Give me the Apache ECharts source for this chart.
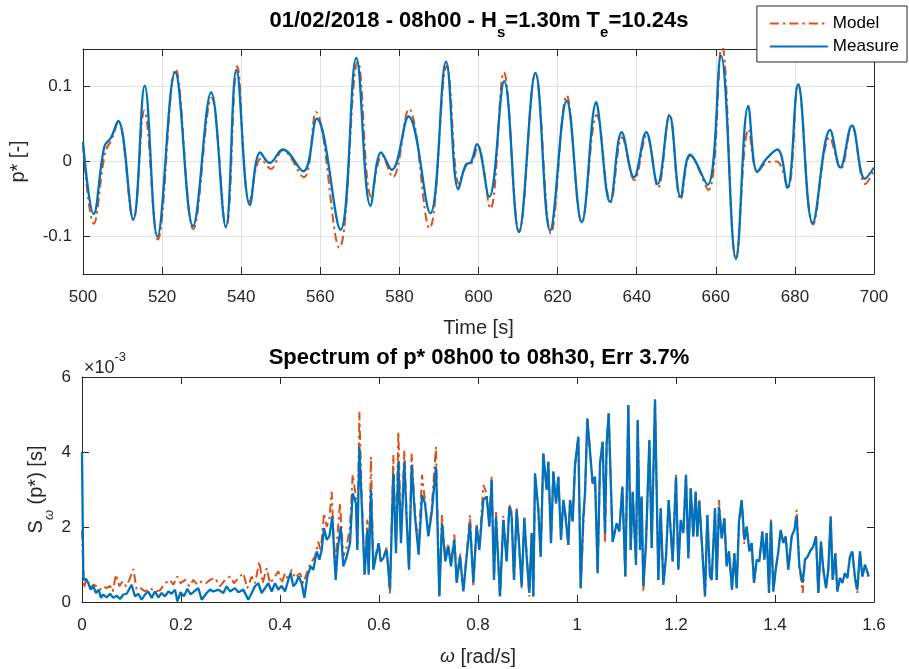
<!DOCTYPE html>
<html>
<head>
<meta charset="utf-8">
<title>Pressure p* – time series and spectrum</title>
<script src="https://cdn.jsdelivr.net/npm/echarts@6/dist/echarts.min.js"></script>
<style>
  html, body { margin: 0; padding: 0; background: #ffffff; }
  #chart { width: 909px; height: 669px; }
</style>
</head>
<body>
<div id="chart"></div>
<script>
// ---- Time series, 500–700 s (turning points of each trace) ----
const timeMeasure = [500, 502.7, 505.4, 507.1, 508.9, 512.7, 515.6, 518.8, 523.3, 527.8, 532.4, 536.1, 538.8, 542.2, 544.8, 547.2, 550.5, 555.7, 559.1, 565.1, 569.1, 572.7, 575.4, 578.1, 582.3, 587.8, 591.8, 594.9, 596.8, 598.1, 599.6, 602.7, 606.5, 610.2, 614.4, 618.1, 622.3, 626.1, 629.8, 630.3, 633.3, 636.2, 639.3, 642.4, 645.3, 648.3, 651.1, 653.5, 657.9, 661.3, 665.1, 668.2, 670.5, 672.7, 675.6, 678.1, 680.8, 684.5, 688.9, 691.5, 694.4, 697.7, 700];
const pMeasure = [0.026, -0.070, 0.020, 0.032, 0.054, -0.077, 0.101, -0.100, 0.119, -0.086, 0.092, -0.087, 0.122, -0.058, 0.012, -0.002, 0.016, -0.013, 0.057, -0.091, 0.138, -0.059, 0.012, -0.011, 0.060, -0.069, 0.133, -0.037, -0.004, -0.001, 0.023, -0.047, 0.107, -0.094, 0.118, -0.092, 0.081, -0.081, 0.079, 0.067, -0.054, 0.039, -0.021, 0.039, -0.030, 0.061, -0.047, 0.009, -0.031, 0.141, -0.130, 0.074, -0.014, 0.003, 0.016, -0.035, 0.103, -0.082, 0.042, -0.008, 0.048, -0.023, -0.008];

const timeModel = [500, 502.7, 505.6, 507.3, 508.9, 512.7, 515.5, 518.9, 523.4, 527.9, 532.5, 536.2, 539.0, 542.1, 545.0, 547.5, 550.5, 555.8, 558.9, 564.8, 569.5, 572.9, 575.6, 578.3, 582.4, 587.6, 592.0, 595.1, 596.8, 598.3, 599.8, 603.0, 606.4, 610.3, 614.4, 618.3, 622.3, 626.1, 629.9, 633.4, 636.3, 639.4, 642.5, 645.4, 648.3, 651.1, 653.6, 658.1, 661.5, 665.1, 668.3, 670.6, 673.0, 675.4, 678.2, 680.8, 684.6, 688.8, 691.6, 694.4, 697.8, 700];
const pModel = [0.022, -0.083, 0.012, 0.030, 0.054, -0.078, 0.068, -0.104, 0.123, -0.090, 0.085, -0.088, 0.127, -0.054, 0.004, -0.010, 0.015, -0.021, 0.066, -0.115, 0.133, -0.047, 0.008, -0.021, 0.070, -0.089, 0.127, -0.030, -0.006, -0.002, 0.020, -0.063, 0.119, -0.094, 0.118, -0.096, 0.088, -0.081, 0.062, -0.054, 0.032, -0.025, 0.035, -0.035, 0.063, -0.051, 0.008, -0.038, 0.156, -0.130, 0.043, -0.014, -0.001, 0.000, -0.035, 0.103, -0.084, 0.032, -0.010, 0.048, -0.030, -0.012];

// ---- Spectrum S_w(p*), values in units of 1e-3 s ----
const omegaMeasure = [0.0000, 0.0027, 0.0081, 0.0128, 0.0175, 0.0229, 0.0283, 0.0337, 0.0384, 0.0431, 0.0498, 0.0566, 0.0633, 0.0700, 0.0768, 0.0835, 0.0902, 0.1003, 0.1071, 0.1138, 0.1205, 0.1273, 0.1340, 0.1407, 0.1475, 0.1542, 0.1609, 0.1677, 0.1744, 0.1811, 0.1879, 0.1926, 0.1993, 0.2061, 0.2128, 0.2195, 0.2263, 0.2350, 0.2418, 0.2519, 0.2586, 0.2653, 0.2754, 0.2855, 0.2923, 0.2990, 0.3091, 0.3158, 0.3259, 0.3360, 0.3428, 0.3495, 0.3562, 0.3630, 0.3697, 0.3764, 0.3832, 0.3899, 0.3966, 0.4034, 0.4101, 0.4168, 0.4215, 0.4269, 0.4323, 0.4377, 0.4438, 0.4492, 0.4552, 0.4620, 0.4673, 0.4741, 0.4795, 0.4842, 0.4889, 0.4943, 0.4997, 0.5057, 0.5125, 0.5165, 0.5226, 0.5279, 0.5347, 0.5414,
  0.5468, 0.5535, 0.5562, 0.5603, 0.5656, 0.5710, 0.5764, 0.5791, 0.5838, 0.5885, 0.5939, 0.5993, 0.6034, 0.6087, 0.6155, 0.6222, 0.6289, 0.6343, 0.6391, 0.6444, 0.6512, 0.6559, 0.6606, 0.6660, 0.6727, 0.6801, 0.6869, 0.6929, 0.6997, 0.7064, 0.7151, 0.7219, 0.7273, 0.7340, 0.7401, 0.7454, 0.7522, 0.7569, 0.7636, 0.7704, 0.7758, 0.7838, 0.7906, 0.7973, 0.8027, 0.8108, 0.8175, 0.8229, 0.8276, 0.8323, 0.8364, 0.8444, 0.8512, 0.8579, 0.8633, 0.8680, 0.8727, 0.8781, 0.8828, 0.8882, 0.8936, 0.8983, 0.9037, 0.9084, 0.9118, 0.9152, 0.9219, 0.9266, 0.9320, 0.9387, 0.9421, 0.9475, 0.9522, 0.9576, 0.9623, 0.9677, 0.9724, 0.9758, 0.9825, 0.9859, 0.9912, 0.9960, 1.0027, 1.0074, 1.0128, 1.0162, 1.0209, 1.0263, 1.0316, 1.0364, 1.0417, 1.0465, 1.0518, 1.0566, 1.0599, 1.0640,
  1.0720, 1.0802, 1.0855, 1.0916, 1.0977, 1.1037, 1.1084, 1.1125, 1.1192, 1.1226, 1.1273, 1.1306, 1.1340, 1.1394, 1.1462, 1.1509, 1.1576, 1.1643, 1.1691, 1.1744, 1.1798, 1.1852, 1.1933, 1.2000, 1.2047, 1.2095, 1.2148, 1.2202, 1.2249, 1.2297, 1.2350, 1.2397, 1.2431, 1.2471, 1.2539, 1.2586, 1.2633, 1.2687, 1.2721, 1.2788, 1.2822, 1.2869, 1.2923, 1.2977, 1.3024, 1.3071, 1.3131, 1.3178, 1.3226, 1.3273, 1.3327, 1.3380, 1.3428, 1.3482, 1.3529, 1.3576, 1.3630, 1.3684, 1.3744, 1.3785, 1.3832, 1.3879, 1.3919, 1.3966, 1.4013, 1.4067, 1.4114, 1.4168, 1.4215, 1.4269, 1.4337, 1.4391, 1.4438, 1.4492, 1.4559, 1.4606, 1.4660, 1.4707, 1.4774, 1.4828, 1.4875, 1.4929, 1.4976, 1.5030, 1.5077, 1.5125, 1.5165, 1.5219, 1.5259, 1.5313, 1.5360, 1.5414, 1.5461, 1.5515, 1.5562, 1.5616, 1.5663, 1.5717, 1.5764, 1.5818, 1.5852, 1.5892];
const specMeasure = [4.00, 0.59, 0.61, 0.50, 0.33, 0.42, 0.24, 0.33, 0.11, 0.20, 0.12, 0.22, 0.11, 0.17, 0.08, 0.20, 0.22, 0.46, 0.15, 0.22, 0.06, 0.20, 0.28, 0.11, 0.28, 0.12, 0.24, 0.15, 0.28, 0.22, 0.33, 0.02, 0.26, 0.15, 0.35, 0.20, 0.28, 0.37, 0.06, 0.24, 0.33, 0.28, 0.33, 0.24, 0.42, 0.28, 0.37, 0.26, 0.33, 0.06, 0.24, 0.42, 0.50, 0.24, 0.37, 0.50, 0.28, 0.50, 0.33, 0.43, 0.28, 0.59, 0.77, 0.42, 0.50, 0.68, 0.50, 0.11, 0.68, 0.95, 0.86, 1.35, 1.13, 1.39, 1.97, 1.66, 1.75, 2.28, 0.59, 1.39, 2.01, 0.95, 1.21, 1.57,
  2.90, 2.63, 1.39, 4.14, 2.46, 0.73, 1.92, 0.73, 2.99, 0.86, 1.21, 1.57, 1.08, 1.17, 1.39, 0.33, 3.43, 1.30, 3.74, 1.57, 3.74, 2.19, 0.86, 3.65, 2.28, 1.26, 2.85, 2.63, 1.75, 2.37, 3.61, 0.15, 2.10, 1.08, 1.48, 0.95, 1.66, 0.51, 1.21, 0.28, 1.04, 2.10, 0.51, 2.01, 1.39, 2.72, 2.81, 2.01, 3.25, 0.59, 2.28, 0.15, 2.19, 1.08, 2.54, 2.28, 0.59, 2.46, 1.57, 0.42, 2.23, 1.21, 0.24, 1.84, 0.15, 3.43, 2.46, 1.21, 3.96, 2.99, 3.74, 1.57, 3.48, 2.63, 3.34, 1.66, 2.72, 2.41, 1.52, 2.72, 2.15, 3.65, 4.41, 0.37, 2.28, 2.90, 4.89, 4.01, 3.16, 3.34, 0.77, 3.70, 4.27, 1.84, 4.23, 5.03,
  1.60, 2.10, 1.88, 3.08, 0.68, 5.25, 1.39, 2.94, 0.99, 4.85, 1.39, 2.81, 0.42, 1.57, 4.32, 1.44, 5.38, 0.59, 2.50, 0.46, 1.21, 2.72, 1.08, 3.34, 0.86, 2.19, 1.84, 3.39, 1.17, 3.03, 1.75, 2.94, 1.75, 2.68, 1.21, 0.15, 2.32, 0.68, 0.59, 2.50, 0.59, 2.54, 1.70, 2.23, 0.95, 1.35, 0.33, 1.30, 0.37, 2.15, 2.72, 1.66, 2.01, 1.35, 1.57, 0.51, 1.13, 1.08, 1.88, 1.13, 1.84, 0.24, 2.15, 0.28, 0.86, 1.35, 1.92, 1.57, 1.75, 0.86, 1.75, 1.92, 2.28, 0.95, 0.51, 1.13, 1.21, 1.35, 1.48, 1.75, 0.24, 1.61, 0.86, 0.37, 0.86, 2.28, 0.59, 1.30, 0.28, 0.64, 0.51, 0.77, 0.64, 1.21, 1.35, 0.64, 0.33, 1.35, 0.68, 0.99, 0.86, 0.68];

const omegaModel = [0.0000, 0.0040, 0.0094, 0.0162, 0.0229, 0.0296, 0.0364, 0.0431, 0.0498, 0.0566, 0.0620, 0.0687, 0.0754, 0.0822, 0.0889, 0.0956, 0.1037, 0.1104, 0.1185, 0.1273, 0.1374, 0.1475, 0.1576, 0.1677, 0.1778, 0.1845, 0.1926, 0.1993, 0.2081, 0.2168, 0.2249, 0.2330, 0.2418, 0.2505, 0.2586, 0.2687, 0.2788, 0.2889, 0.2990, 0.3071, 0.3158, 0.3259, 0.3340, 0.3428, 0.3495, 0.3582, 0.3650, 0.3731, 0.3798, 0.3879, 0.3966, 0.4034, 0.4101, 0.4168, 0.4236, 0.4303, 0.4404, 0.4471, 0.4552, 0.4620, 0.4707, 0.4774, 0.4822, 0.4889, 0.4943, 0.4997, 0.5044, 0.5111, 0.5165, 0.5212, 0.5279, 0.5347, 0.5414,
  0.5468, 0.5535, 0.5562, 0.5603, 0.5656, 0.5710, 0.5764, 0.5791, 0.5838, 0.5885, 0.5939, 0.5993, 0.6034, 0.6087, 0.6155, 0.6222, 0.6289, 0.6343, 0.6391, 0.6444, 0.6512, 0.6559, 0.6606, 0.6660, 0.6727, 0.6801, 0.6869, 0.6929, 0.6997, 0.7064, 0.7151, 0.7219, 0.7273, 0.7340, 0.7401, 0.7454, 0.7522, 0.7569, 0.7636, 0.7704, 0.7758, 0.7838, 0.7906, 0.7973, 0.8027, 0.8108, 0.8175, 0.8229, 0.8276, 0.8323, 0.8364, 0.8444, 0.8512, 0.8579, 0.8633, 0.8680, 0.8727, 0.8781, 0.8828, 0.8882, 0.8936, 0.8983, 0.9037, 0.9084, 0.9118, 0.9152, 0.9219, 0.9266, 0.9320, 0.9387, 0.9421, 0.9475, 0.9522, 0.9576, 0.9623, 0.9677, 0.9724, 0.9758, 0.9825, 0.9859, 0.9912, 0.9960, 1.0027, 1.0074, 1.0128, 1.0162, 1.0209, 1.0263, 1.0316, 1.0364, 1.0417, 1.0465, 1.0518, 1.0566, 1.0599, 1.0640,
  1.0720, 1.0802, 1.0855, 1.0916, 1.0977, 1.1037, 1.1084, 1.1125, 1.1192, 1.1226, 1.1273, 1.1306, 1.1340, 1.1394, 1.1462, 1.1509, 1.1576, 1.1643, 1.1691, 1.1744, 1.1798, 1.1852, 1.1933, 1.2000, 1.2047, 1.2095, 1.2148, 1.2202, 1.2249, 1.2297, 1.2350, 1.2397, 1.2431, 1.2471, 1.2539, 1.2586, 1.2633, 1.2687, 1.2721, 1.2788, 1.2822, 1.2869, 1.2923, 1.2977, 1.3024, 1.3071, 1.3131, 1.3178, 1.3226, 1.3273, 1.3327, 1.3380, 1.3428, 1.3482, 1.3529, 1.3576, 1.3630, 1.3684, 1.3744, 1.3785, 1.3832, 1.3879, 1.3919, 1.3966, 1.4013, 1.4067, 1.4114, 1.4168, 1.4215, 1.4269, 1.4337, 1.4391, 1.4438, 1.4492, 1.4559, 1.4606, 1.4660, 1.4707, 1.4774, 1.4828, 1.4875, 1.4929, 1.4976, 1.5030, 1.5077, 1.5125, 1.5165, 1.5219, 1.5259, 1.5313, 1.5360, 1.5414, 1.5461, 1.5515, 1.5562, 1.5616, 1.5663, 1.5717, 1.5764, 1.5818, 1.5852, 1.5892];
const specModel = [1.90, 0.37, 0.64, 0.37, 0.46, 0.42, 0.33, 0.42, 0.37, 0.43, 0.28, 0.73, 0.42, 0.55, 0.42, 0.59, 0.88, 0.33, 0.37, 0.28, 0.37, 0.28, 0.31, 0.50, 0.59, 0.46, 0.68, 0.50, 0.59, 0.42, 0.59, 0.46, 0.55, 0.50, 0.59, 0.64, 0.42, 0.59, 0.68, 0.50, 0.64, 0.77, 0.37, 0.68, 0.50, 1.08, 0.50, 0.90, 0.50, 0.64, 0.82, 0.50, 0.77, 0.59, 0.86, 0.64, 0.77, 0.50, 0.82, 1.04, 1.21, 1.61, 1.35, 2.37, 2.01, 2.19, 2.94, 0.86, 1.84, 2.63, 1.21, 1.48, 2.01,
  3.40, 2.80, 1.50, 5.07, 2.60, 0.73, 2.20, 0.80, 3.87, 0.90, 1.30, 1.60, 1.15, 1.20, 1.45, 0.20, 3.92, 1.50, 4.54, 1.70, 4.05, 2.30, 0.90, 3.96, 2.40, 1.40, 3.39, 2.70, 1.80, 2.50, 4.14, 0.20, 2.32, 1.15, 1.55, 1.00, 1.80, 0.55, 1.30, 0.30, 1.10, 2.32, 0.45, 2.10, 1.45, 3.12, 2.90, 2.10, 3.34, 0.60, 2.40, 0.12, 2.30, 1.10, 2.60, 2.40, 0.55, 2.50, 1.60, 0.35, 2.30, 1.25, 0.15, 1.84, 0.15, 3.40, 2.46, 1.21, 3.96, 2.99, 3.74, 1.57, 3.48, 2.63, 3.34, 1.66, 2.72, 2.41, 1.52, 2.72, 2.15, 3.65, 4.41, 0.37, 2.05, 2.90, 4.89, 4.01, 3.16, 3.34, 0.77, 3.70, 4.27, 1.57, 4.23, 5.03,
  1.60, 2.10, 1.88, 3.08, 0.68, 5.25, 1.39, 2.94, 0.99, 4.85, 1.39, 2.81, 0.28, 1.57, 4.32, 1.44, 5.43, 0.59, 2.50, 0.46, 1.21, 2.72, 1.08, 3.39, 0.86, 2.10, 1.84, 3.39, 1.17, 3.03, 1.75, 2.94, 1.75, 2.72, 1.21, 0.15, 2.32, 0.68, 0.59, 2.50, 0.59, 2.72, 1.70, 2.23, 0.95, 1.35, 0.33, 1.30, 0.37, 2.15, 2.72, 1.55, 2.01, 1.35, 1.57, 0.51, 1.13, 1.08, 1.88, 1.13, 1.84, 0.24, 2.20, 0.28, 0.86, 1.35, 1.92, 1.57, 1.75, 0.86, 1.75, 1.92, 2.46, 0.95, 0.24, 1.13, 1.21, 1.35, 1.48, 1.75, 0.24, 1.61, 0.86, 0.37, 0.86, 2.28, 0.59, 1.30, 0.28, 0.64, 0.51, 0.77, 0.64, 1.21, 1.35, 0.64, 0.24, 1.35, 0.68, 0.99, 0.86, 0.68];

// ---- Tick labels ----
const timeTicks = [500, 520, 540, 560, 580, 600, 620, 640, 660, 680, 700];
const pTicks = [-0.1, 0, 0.1];
const omegaTicks = [0, 0.2, 0.4, 0.6, 0.8, 1, 1.2, 1.4, 1.6];
const specTicks = [0, 2, 4, 6];

// ---- Styling ----
const FONT = '"Liberation Sans", Arial, Helvetica, sans-serif';
const INK = '#262626';
const BLUE = '#0072BD';
const ORANGE = '#D95319';
const GRIDLINE = '#e1e1e1';
const DASH_DOT = [9, 4, 2.5, 4];
const CLEAR = 'rgba(0,0,0,0)';

const zip = (xs, ys) => xs.map((x, i) => [x, ys[i]]);

function frameAxis(extra) {
  return Object.assign({
    type: 'value',
    axisLine: { show: true, onZero: false, lineStyle: { color: INK, width: 1 } },
    axisTick: { show: true, inside: true, length: 7, lineStyle: { color: INK, width: 1 } },
    axisLabel: { show: false },
    splitLine: { show: false },
    nameMoveOverlap: false
  }, extra);
}

const labelStyle = { show: true, fontSize: 17, color: INK, fontFamily: FONT };

const option = {
  animation: false,
  backgroundColor: '#ffffff',
  textStyle: { fontFamily: FONT },
  title: [
    {
      text: '{b|01/02/2018 - 08h00 - H}{s|s}{b|=1.30m T}{s|e}{b|=10.24s}',
      left: 479, top: 10, padding: 0, textAlign: 'center',
      textStyle: {
        rich: {
          b: { fontSize: 22, fontWeight: 'bold', color: '#000', fontFamily: FONT, lineHeight: 22, verticalAlign: 'top' },
          s: { fontSize: 15, fontWeight: 'bold', color: '#000', fontFamily: FONT, lineHeight: 46 }
        }
      }
    },
    {
      text: 'Spectrum of p* 08h00 to 08h30, Err 3.7%',
      left: 479, top: 347, padding: 0, textAlign: 'center',
      textStyle: { fontSize: 22, fontWeight: 'bold', color: '#000', fontFamily: FONT, lineHeight: 22 }
    }
  ],
  legend: {
    data: ['Model', 'Measure'],
    orient: 'vertical',
    right: 2, top: 6,
    padding: [9, 8, 7, 12],
    itemWidth: 58, itemHeight: 12, itemGap: 6, itemTextGap: 7,
    backgroundColor: '#ffffff',
    borderColor: INK, borderWidth: 1, borderRadius: 0,
    itemStyle: { color: CLEAR, borderColor: CLEAR, borderWidth: 0 },
    textStyle: { fontSize: 17, color: '#000', fontFamily: FONT },
    z: 10
  },
  grid: [
    { left: 82, top: 49, width: 792, height: 225, containLabel: false },
    { left: 82, top: 377, width: 792, height: 225, containLabel: false }
  ],
  xAxis: [
    frameAxis({
      gridIndex: 0, position: 'bottom', min: 500, max: 700, interval: 20,
      axisLabel: Object.assign({ margin: 15, customValues: timeTicks }, labelStyle),
      splitLine: { show: true, lineStyle: { color: GRIDLINE, width: 1 } },
      name: 'Time [s]', nameLocation: 'middle', nameGap: 44,
      nameTextStyle: { fontSize: 20, color: INK, fontFamily: FONT }
    }),
    frameAxis({ gridIndex: 0, position: 'top', min: 500, max: 700, interval: 20 }),
    frameAxis({
      gridIndex: 1, position: 'bottom', min: 0, max: 1.6, interval: 0.2,
      axisLabel: Object.assign({ margin: 15, customValues: omegaTicks }, labelStyle),
      name: '{i|ω} [rad/s]', nameLocation: 'middle', nameGap: 45,
      nameTextStyle: {
        fontSize: 20, color: INK, fontFamily: FONT,
        rich: { i: { fontSize: 19, fontStyle: 'italic', color: INK, fontFamily: FONT } }
      }
    }),
    frameAxis({ gridIndex: 1, position: 'top', min: 0, max: 1.6, interval: 0.2 })
  ],
  yAxis: [
    frameAxis({
      gridIndex: 0, position: 'left', min: -0.15, max: 0.15,
      axisTick: { show: true, inside: true, length: 7, customValues: pTicks, lineStyle: { color: INK, width: 1 } },
      axisLabel: Object.assign({ margin: 11, customValues: pTicks }, labelStyle),
      splitLine: { show: true, lineStyle: { color: GRIDLINE, width: 1 } },
      name: 'p* [-]', nameLocation: 'middle', nameGap: 55,
      nameTextStyle: { fontSize: 20, color: INK, fontFamily: FONT }
    }),
    frameAxis({
      gridIndex: 0, position: 'right', min: -0.15, max: 0.15,
      axisTick: { show: true, inside: true, length: 7, customValues: pTicks, lineStyle: { color: INK, width: 1 } }
    }),
    frameAxis({
      gridIndex: 1, position: 'left', min: 0, max: 6, interval: 2,
      axisLabel: Object.assign({ margin: 11, customValues: specTicks }, labelStyle),
      name: '{s|S}{w|ω}{s| (p*) [s]}', nameLocation: 'middle', nameGap: 10,
      nameTextStyle: {
        fontSize: 20, color: INK, fontFamily: FONT,
        rich: {
          s: { fontSize: 20, color: INK, fontFamily: FONT, lineHeight: 20, verticalAlign: 'top' },
          w: { fontSize: 13, fontStyle: 'italic', color: INK, fontFamily: FONT, lineHeight: 46 }
        }
      }
    }),
    frameAxis({ gridIndex: 1, position: 'right', min: 0, max: 6, interval: 2 })
  ],
  graphic: [
    {
      type: 'text', left: 84, top: 351, z: 5,
      style: {
        text: '{m|×10}{e|-3}',
        fill: INK,
        rich: {
          m: { fontSize: 18, fontFamily: FONT, fill: INK, lineHeight: 26, verticalAlign: 'bottom' },
          e: { fontSize: 13, fontFamily: FONT, fill: INK, lineHeight: 13, verticalAlign: 'top' }
        }
      }
    }
  ],
  series: [
    {
      name: 'Model', type: 'line', xAxisIndex: 0, yAxisIndex: 0,
      data: zip(timeModel, pModel), smooth: 0.4, symbol: 'none', clip: true,
      lineStyle: { color: ORANGE, width: 2, type: DASH_DOT },
      itemStyle: { color: ORANGE }, z: 2
    },
    {
      name: 'Measure', type: 'line', xAxisIndex: 0, yAxisIndex: 0,
      data: zip(timeMeasure, pMeasure), smooth: 0.4, symbol: 'none', clip: true,
      lineStyle: { color: BLUE, width: 2.3 },
      itemStyle: { color: BLUE }, z: 3
    },
    {
      name: 'Model', type: 'line', xAxisIndex: 2, yAxisIndex: 2,
      data: zip(omegaModel, specModel), symbol: 'none', clip: true,
      lineStyle: { color: ORANGE, width: 2, type: DASH_DOT },
      itemStyle: { color: ORANGE }, z: 2
    },
    {
      name: 'Measure', type: 'line', xAxisIndex: 2, yAxisIndex: 2,
      data: zip(omegaMeasure, specMeasure), symbol: 'none', clip: true,
      lineStyle: { color: BLUE, width: 2.3 },
      itemStyle: { color: BLUE }, z: 3
    }
  ]
};

const chart = echarts.init(document.getElementById('chart'), null, { renderer: 'canvas' });
chart.setOption(option);
</script>
</body>
</html>
